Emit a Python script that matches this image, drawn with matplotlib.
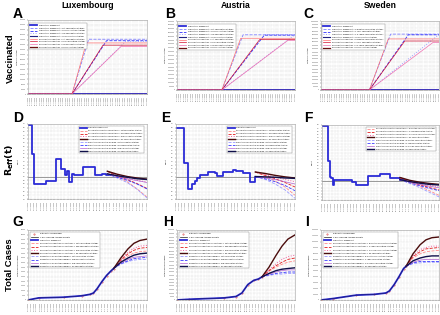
import matplotlib
matplotlib.use('Agg')
import matplotlib.pyplot as plt
import pandas as pd

plt.rcParams['font.family'] = ['Liberation Sans', 'DejaVu Sans']

countries = ['Luxembourg', 'Austria', 'Sweden']
row_labels = ['Vaccinated', r'$\mathbf{R_{eff}(t)}$', 'Total Cases']
letters = ['A', 'B', 'C', 'D', 'E', 'F', 'G', 'H', 'I']
strategy_names = ['1st', '2nd', '3rd', 'no']
strategy_names_I = ['6 months', '1 year', '1.5 years', 'no']

# ---------------- Row 1: vaccinated (days since 01.12.2020) ----------------
vacc_days_end = 100
vacc_start = [37, 38, 41]
vacc_ymax = [600000, 9000000, 10000000]
vacc_ystep = [40000, 500000, 500000]
manual_ramp_end = [[51, 66, 82], [56, 74, 99], [59, 74, 99]]
manual_plateau = [[444000, 432000, 426000], [7200000, 7155000, 7110000], [8100000, 8000000, 7900000]]
pess_ramp_end = [[49, 63, 78], [54, 70, 94], [57, 71, 95]]
pess_plateau = [[414000, 396000, 384000], [6750000, 6570000, 6480000], [7400000, 7100000, 6900000]]

# ---------------- Row 2: R_eff (days since 01.03.2020) ----------------
reff_days_end = 360
reff_ylim = [(0.4, 2.4), (0.4, 2.4), (0.4, 2.8)]
reff_step_days = [
    [0, 12, 18, 53, 86, 99, 112, 117, 124, 132, 139, 167, 203, 223, 236, 250],
    [0, 25, 35, 47, 57, 65, 73, 98, 118, 123, 143, 173, 180, 204, 224, 239, 254],
    [0, 18, 24, 29, 34, 37, 91, 106, 142, 178, 209, 240, 255],
]
reff_step_vals = [
    [2.38, 1.61, 0.80, 0.88, 1.46, 1.21, 1.03, 1.16, 0.85, 1.07, 1.05, 1.25, 1.03, 1.08, 1.04, 1.04],
    [2.29, 1.37, 0.68, 0.80, 0.89, 0.96, 1.03, 1.12, 1.09, 1.01, 1.12, 1.18, 1.15, 1.09, 0.86, 1.00, 1.00],
    [2.77, 1.64, 1.14, 1.11, 0.87, 1.03, 0.98, 0.87, 1.17, 1.22, 1.09, 1.05, 1.05],
]
reff_proj_days = [240, 270, 300, 330, 360]
# order: 1st, 2nd, 3rd, none
reff_pess = [
    [[1.14, 1.00, 0.86, 0.67, 0.45], [1.14, 1.02, 0.92, 0.81, 0.68], [1.14, 1.04, 0.96, 0.90, 0.85], [1.14, 1.06, 1.00, 0.96, 0.93]],
    [[1.12, 1.01, 0.88, 0.72, 0.50], [1.12, 1.03, 0.94, 0.84, 0.72], [1.12, 1.05, 0.98, 0.92, 0.86], [1.12, 1.08, 1.03, 0.99, 0.96]],
    [[1.12, 0.97, 0.84, 0.70, 0.55], [1.12, 0.99, 0.89, 0.80, 0.72], [1.12, 1.01, 0.93, 0.87, 0.82], [1.12, 1.03, 0.97, 0.93, 0.90]],
]
reff_nc = [
    [[1.07, 0.96, 0.84, 0.66, 0.43], [1.07, 0.98, 0.90, 0.80, 0.67], [1.07, 1.00, 0.94, 0.89, 0.84], [1.07, 1.02, 0.98, 0.94, 0.92]],
    [[1.00, 0.92, 0.80, 0.64, 0.42], [1.00, 0.94, 0.86, 0.76, 0.62], [1.00, 0.96, 0.92, 0.86, 0.80], [1.00, 0.99, 0.98, 0.96, 0.95]],
    [[1.05, 0.93, 0.80, 0.65, 0.50], [1.05, 0.95, 0.86, 0.77, 0.70], [1.05, 0.97, 0.90, 0.84, 0.79], [1.05, 0.99, 0.94, 0.90, 0.88]],
]

# ---------------- Row 3: total cases, thousands (days since 01.03.2020) ----------------
cases_days_end = 400
cases_ymax = [75, 1000, 1200]
cases_ystep = [5, 50, 100]
cases_sim_days = [
    [0, 36, 120, 180, 208, 220, 232, 248, 264, 280, 288],
    [0, 40, 160, 200, 220, 240, 260, 276, 288],
    [0, 40, 120, 180, 220, 232, 248, 264, 280, 288],
]
cases_sim_vals = [
    [0, 2.25, 3.0, 4.5, 6.0, 7.5, 12.0, 19.5, 26.25, 31.5, 33.75],
    [0, 10, 30, 50, 100, 220, 280, 300, 330],
    [0, 24, 84, 96, 120, 156, 264, 396, 540, 576],
]
cases_proj_days = [288, 312, 336, 356, 376, 400]
cases_pess = [
    [[33.75, 42, 47.25, 50.25, 51.75, 52.5], [33.75, 42.75, 49.5, 53.25, 55.5, 56.25],
     [33.75, 43.5, 51, 55.5, 57.75, 58.5], [33.75, 45, 54.75, 60.75, 63.75, 65.25]],
    [[330, 410, 470, 510, 540, 560], [330, 420, 490, 540, 580, 600],
     [330, 430, 520, 580, 620, 640], [330, 470, 640, 770, 870, 930]],
    [[576, 720, 792, 828, 840, 852], [576, 744, 828, 876, 888, 900],
     [576, 756, 864, 900, 924, 924], [576, 792, 948, 1032, 1068, 1080]],
]
cases_nc = [
    [[33.75, 38.25, 41.25, 42.75, 43.5, 43.5], [33.75, 39, 42, 44.25, 45, 45.75],
     [33.75, 39.75, 43.5, 45.75, 46.5, 47.25], [33.75, 40.5, 45, 48, 49.5, 50.25]],
    [[330, 350, 370, 370, 380, 380], [330, 360, 380, 390, 400, 400],
     [330, 370, 400, 420, 430, 430], [330, 380, 420, 440, 450, 460]],
    [[576, 624, 636, 648, 648, 648], [576, 636, 660, 660, 660, 660],
     [576, 648, 684, 696, 696, 696], [576, 672, 720, 744, 756, 756]],
]

# ---------------- styles ----------------
sim_style = dict(color='#2b2bd6', lw=1.3)
pess_styles = [dict(color='#ff8c8c', ls='--', lw=0.6), dict(color='#e31a1c', ls='--', lw=0.6),
               dict(color='#f060a0', ls=':', lw=0.7), dict(color='#4a0c0c', ls='-', lw=1.0)]
nc_styles = [dict(color='#9a9aff', ls='--', lw=0.6), dict(color='#3a3aff', ls='--', lw=0.6),
             dict(color='#b060d0', ls='-', lw=0.5), dict(color='#10104a', ls='-', lw=1.0)]
man_vacc_styles = [dict(color='#8080ff', ls='--', lw=0.6), dict(color='#3030ff', ls='--', lw=0.6),
                   dict(color='#a0a0ff', ls=':', lw=0.7), dict(color='#202080', ls='-', lw=0.8)]
pess_vacc_styles = [dict(color='#ff7070', ls='-', lw=0.5), dict(color='#d01030', ls='-', lw=0.5),
                    dict(color='#f070b0', ls='-', lw=0.5), dict(color='#6a1010', ls='-', lw=0.9)]

W, H = 440, 315
fig = plt.figure(figsize=(W / 100, H / 100), dpi=100)

boxes = [
    [(28, 20, 147, 94), (177, 21, 295, 90), (321, 21, 439, 90)],
    [(28, 124, 147, 199), (176, 124, 295, 199), (322, 125, 439, 200)],
    [(28, 230, 147, 300), (177, 230, 295, 300), (321, 230, 439, 300)],
]
letter_pos = [[(18, 14), (170, 14), (308, 14)], [(18, 118), (166, 118), (308, 118)],
              [(18, 222), (168, 222), (307, 222)]]


def mk_ax(b):
    l, t, r, btm = b
    return fig.add_axes([l / W, 1 - btm / H, (r - l) / W, (btm - t) / H])


def style(ax, xticks, xlabels, ylabel):
    for s in ax.spines.values():
        s.set_color('#a0a0a0')
        s.set_linewidth(0.4)
    ax.set_xticks(xticks)
    ax.set_xticklabels(xlabels, rotation=90, fontsize=1.3)
    ax.tick_params(axis='both', length=1, width=0.3, pad=0.6, labelsize=1.3, colors='#555555')
    ax.grid(True, ls=':', lw=0.35, color='#c8c8c8')
    ax.set_axisbelow(True)
    ax.set_ylabel(ylabel, fontsize=1.5, labelpad=1)


def legend(ax, loc, fs, sp, anchor=None):
    kw = dict(loc=loc, fontsize=fs, frameon=True, framealpha=1, edgecolor='#888888', fancybox=False,
              handlelength=3.4, borderpad=0.6, labelspacing=sp, handletextpad=0.9)
    if anchor is not None:
        kw['bbox_to_anchor'] = anchor
    leg = ax.legend(**kw)
    leg.get_frame().set_linewidth(0.3)


base_vacc = pd.Timestamp('2020-12-01')
base_main = pd.Timestamp('2020-03-01')
vacc_ticks = list(range(0, vacc_days_end + 1, 2))
vacc_labels = [(base_vacc + pd.Timedelta(days=d)).strftime('%d.%m.%Y') for d in vacc_ticks]
reff_ticks = list(range(0, reff_days_end + 1, 10))
reff_labels = [(base_main + pd.Timedelta(days=d)).strftime('%d.%m.%Y') for d in reff_ticks]
cases_ticks = list(range(0, cases_days_end + 1, 10))
cases_labels = [(base_main + pd.Timedelta(days=d)).strftime('%d.%m.%Y') for d in cases_ticks]

for c in range(3):
    names = strategy_names_I if c == 2 else strategy_names
    # ---- Row 1 ----
    ax = mk_ax(boxes[0][c])
    ax.plot([0, vacc_days_end], [0, 0], label='Simulation: Manual Fit', **sim_style)
    for i in range(3):
        ax.plot([0, vacc_start[c], manual_ramp_end[c][i], vacc_days_end],
                [0, 0, manual_plateau[c][i], manual_plateau[c][i]],
                label=f'Simulation: Manual Fit + {names[i]} vaccination strategy', **man_vacc_styles[i])
    ax.plot([0, vacc_days_end], [0, 0], label='Simulation: Manual Fit + no vaccination strategy', **man_vacc_styles[3])
    for i in range(3):
        ax.plot([0, vacc_start[c], pess_ramp_end[c][i], vacc_days_end],
                [0, 0, pess_plateau[c][i], pess_plateau[c][i]],
                label=f'Pessimistic Projection + {names[i]} vaccination strategy', **pess_vacc_styles[i])
    ax.plot([0, vacc_days_end], [0, 0], label='Pessimistic Projection + no vaccination strategy', **pess_vacc_styles[3])
    ax.set_xlim(0, vacc_days_end)
    ax.set_ylim(0, vacc_ymax[c])
    yt = list(range(0, vacc_ymax[c] + 1, vacc_ystep[c]))
    ax.set_yticks(yt)
    ax.set_yticklabels([str(v) for v in yt])
    style(ax, vacc_ticks, vacc_labels, 'Total Vaccinated')
    legend(ax, 'upper left', 1.5, 0.6, (0.0, 0.97))

    # ---- Row 2 ----
    ax = mk_ax(boxes[1][c])
    ax.axhline(1.0, color='#8a8a8a', lw=0.6, zorder=1)
    ax.plot(reff_step_days[c], reff_step_vals[c], drawstyle='steps-post',
            label='Simulation: Manual Fit' if c < 2 else None, **sim_style)
    for i in range(4):
        ax.plot(reff_proj_days, reff_pess[c][i],
                label=f'Pessimistic Projection (as October) + {names[i]} vaccination strategy', **pess_styles[i])
    for i in range(4):
        ax.plot(reff_proj_days, reff_nc[c][i],
                label=f'Projection if No Further Change + {names[i]} vaccination strategy', **nc_styles[i])
    ax.set_xlim(0, reff_days_end)
    lo, hi = reff_ylim[c]
    ax.set_ylim(lo, hi)
    n = int(round((hi - lo) / 0.1))
    yt = [round(lo + 0.1 * k, 1) for k in range(n + 1)]
    ax.set_yticks(yt)
    ax.set_yticklabels([f'{v:.1f}' for v in yt])
    style(ax, reff_ticks, reff_labels, r'R$_{eff}$(t)')
    legend(ax, 'upper right', 1.45, 0.75, (0.985, 0.99))

    # ---- Row 3 ----
    ax = mk_ax(boxes[2][c])
    sx = cases_sim_days[c]
    sy = [v * 1000 for v in cases_sim_vals[c]]
    ax.plot(sx, sy, ls='none', marker='.', ms=0.8, color='#e05050', label='Data until 23 December')
    ax.plot([], [], color='#222222', lw=0.5, label='7-Days Moving Average of Data')
    ax.plot(sx, sy, label='Simulation: Manual Fit', **sim_style)
    ax.plot(sx, sy, color='#1a1a60', lw=0.4)
    for i in range(4):
        ax.plot(cases_proj_days, [v * 1000 for v in cases_pess[c][i]],
                label=f'Pessimistic Projection (as October) + {names[i]} vaccination strategy', **pess_styles[i])
    for i in range(4):
        ax.plot(cases_proj_days, [v * 1000 for v in cases_nc[c][i]],
                label=f'Projection if No Further Change + {names[i]} vaccination strategy', **nc_styles[i])
    ax.set_xlim(0, cases_days_end)
    ax.set_ylim(0, cases_ymax[c] * 1000)
    yt = [k * cases_ystep[c] * 1000 for k in range(int(cases_ymax[c] / cases_ystep[c]) + 1)]
    ax.set_yticks(yt)
    ax.set_yticklabels([str(v) for v in yt])
    style(ax, cases_ticks, cases_labels, 'Total Confirmed Cases')
    legend(ax, 'upper left', 1.5, 0.85, (0.005, 0.99))

# titles, row labels, letters
for c, name in enumerate(countries):
    l, t, r, b = boxes[0][c]
    fig.text(((l + r) / 2) / W, 1 - 6 / H, name, ha='center', va='center', fontsize=6.2, fontweight='bold')
row_y = [58, 160, 265]
for r_, lab in enumerate(row_labels):
    fig.text(10 / W, 1 - row_y[r_] / H, lab, rotation=90, ha='center', va='center', fontsize=6.8, fontweight='bold')
k = 0
for r_ in range(3):
    for c in range(3):
        x, y = letter_pos[r_][c]
        fig.text(x / W, 1 - y / H, letters[k], ha='center', va='center', fontsize=10, fontweight='bold')
        k += 1

fig.savefig('out.png', dpi=100)
